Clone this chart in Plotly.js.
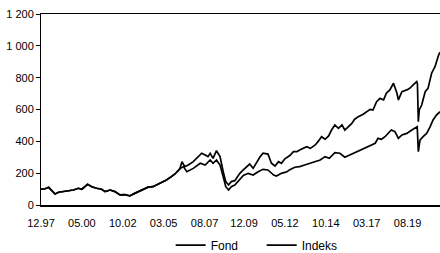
<!DOCTYPE html>
<html>
<head>
<meta charset="utf-8">
<script src="https://cdn.plot.ly/plotly-3.0.1.min.js"></script>
<style>html,body{margin:0;padding:0;background:#fff;}#chart{width:440px;height:253px;}</style>
</head>
<body>
<div id="chart"></div>
<script>
const fondDates = ['1997-12-01','1998-03-01','1998-05-15','1998-07-15','1998-10-01','1998-12-15','1999-04-01','1999-07-15','1999-11-01','2000-02-15','2000-05-01','2000-09-01','2000-12-01','2001-03-15','2001-07-01','2001-09-15','2002-01-01','2002-04-15','2002-08-01','2002-11-15','2003-03-01','2003-06-15','2003-10-01','2004-02-01','2004-04-01','2004-07-15','2004-11-01','2005-02-15','2005-05-01','2005-08-15','2005-11-01','2006-02-15',
'2006-04-01','2006-06-01','2006-08-15','2006-12-01','2007-03-15','2007-06-01','2007-08-15','2007-10-15','2007-12-01','2008-02-01','2008-04-15','2008-07-01','2008-09-15','2008-11-01','2009-01-01','2009-03-01','2009-05-15','2009-09-01','2009-11-15','2010-03-01','2010-04-01','2010-06-15','2010-09-01','2010-11-15','2011-01-15','2011-05-01','2011-07-15','2011-10-01','2011-12-15','2012-02-15','2012-05-01','2012-08-15','2012-11-01','2013-01-15','2013-03-15','2013-06-01','2013-08-15','2013-11-01','2014-02-15','2014-04-15','2014-07-01','2014-09-15','2014-12-01','2015-02-01','2015-04-15','2015-07-01','2015-09-15','2015-11-15','2016-02-01','2016-04-15','2016-06-15','2016-09-01','2016-12-15','2017-03-01','2017-05-15','2017-07-15','2017-10-01','2017-12-15','2018-03-01','2018-05-01','2018-07-15','2018-10-01','2018-12-15','2019-01-15','2019-04-01','2019-07-15','2019-09-15','2019-12-01','2020-02-15','2020-03-01','2020-03-20','2020-04-10','2020-06-01','2020-08-15','2020-10-15','2021-01-01','2021-03-15','2021-06-01','2021-07-01'];
const fondValues = [99,102,111,94,69,80,84,90,94,105,99,130,115,105,99,84,94,84,63,65,57,73,88,105,112,115,130,147,157,178,195,228,
272,241,251,272,304,325,314,304,325,293,341,304,199,147,126,147,153,199,220,251,257,230,272,304,325,320,262,245,272,262,290,311,335,335,346,356,366,356,377,398,429,413,434,471,503,482,503,471,492,513,539,555,570,586,601,597,649,670,660,702,723,765,702,660,712,723,733,754,775,760,523,597,628,712,733,828,869,942,960];

const indeksDates = ['1997-12-01','1998-03-01','1998-05-15','1998-07-15','1998-10-01','1998-12-15','1999-04-01','1999-07-15','1999-11-01','2000-02-15','2000-05-01','2000-09-01','2000-12-01','2001-03-15','2001-07-01','2001-09-15','2002-01-01','2002-04-15','2002-08-01','2002-11-15','2003-03-01','2003-06-15','2003-10-01','2004-02-01','2004-04-01','2004-07-15','2004-11-01','2005-02-15','2005-05-01','2005-08-15','2005-11-01','2006-02-15',
'2006-05-01','2006-07-15','2006-12-01','2007-05-01','2007-08-15','2007-12-01','2008-02-01','2008-04-15','2008-07-01','2008-09-15','2008-11-01','2009-01-01','2009-03-01','2009-05-15','2009-09-01','2009-11-15','2010-03-01','2010-06-15','2010-10-01','2011-01-15','2011-05-01','2011-09-01','2011-11-01','2012-02-15','2012-06-15','2012-08-15','2012-12-01','2013-03-15','2013-07-01','2013-11-01','2014-02-15','2014-06-01','2014-09-15','2014-12-15','2015-04-15','2015-08-01','2015-11-15','2016-03-01','2016-06-15','2016-10-01','2017-02-01','2017-05-15','2017-09-01','2017-11-01','2018-01-15','2018-04-01','2018-06-15','2018-08-15','2018-11-01','2019-01-15','2019-04-01','2019-07-15','2019-11-01','2020-01-01','2020-02-25','2020-03-20','2020-04-25','2020-07-01','2020-09-15','2020-12-01','2021-02-01','2021-04-15','2021-07-01'];
const indeksValues = [99,102,111,94,69,80,84,90,94,105,99,130,115,105,99,84,94,84,63,65,57,73,88,105,112,115,130,147,157,178,195,228,
241,209,230,262,251,283,262,283,251,170,115,94,115,126,165,185,199,188,209,224,220,188,182,199,209,222,237,241,251,262,272,283,304,293,329,325,300,314,325,340,356,371,388,419,413,429,454,471,461,419,440,450,471,482,492,335,408,429,450,492,534,565,586];

const xTickVals = ['1997-12-01','2000-05-01','2002-10-01','2005-03-01','2007-08-01','2009-12-01','2012-05-01','2014-10-01','2017-03-01','2019-08-01'];
const xTickLabels = ['12.97','05.00','10.02','03.05','08.07','12.09','05.12','10.14','03.17','08.19'];
const yTickVals = [0,200,400,600,800,1000,1200];
const yTickLabels = ['0','200','400','600','800','1 000','1 200'];

const FONT = '"Liberation Sans", Arial, sans-serif';

const traces = [
  {x: fondDates, y: fondValues, name: 'Fond', type: 'scatter', mode: 'lines', line: {color: '#000', width: 1.7}},
  {x: indeksDates, y: indeksValues, name: 'Indeks', type: 'scatter', mode: 'lines', line: {color: '#000', width: 1.7}}
];

const layout = {
  width: 440, height: 253,
  margin: {l: 41, r: 0, t: 14, b: 48, pad: 0, autoexpand: false},
  paper_bgcolor: '#fff', plot_bgcolor: '#fff',
  font: {family: FONT, size: 11, color: '#000'},
  showlegend: true,
  legend: {orientation: 'h', x: 0.325, xanchor: 'left', y: -0.21, yanchor: 'middle',
           entrywidth: 46, entrywidthmode: 'pixels',
           font: {family: FONT, size: 12, color: '#000'}, bgcolor: 'rgba(0,0,0,0)'},
  xaxis: {
    type: 'date', range: ['1997-12-01','2021-07-01'],
    tickvals: xTickVals, ticktext: xTickLabels,
    showgrid: false, zeroline: false, showline: true, mirror: true,
    linecolor: '#000', linewidth: 1.5, ticks: '', ticklabelstandoff: 7,
    tickfont: {family: FONT, size: 11, color: '#000'}
  },
  yaxis: {
    range: [0, 1200], tickvals: yTickVals, ticktext: yTickLabels,
    showgrid: false, zeroline: false, showline: true, linecolor: '#000', linewidth: 1,
    ticks: 'outside', ticklen: 4, tickcolor: '#000', tickwidth: 1,
    tickfont: {family: FONT, size: 11, color: '#000'}
  }
};

Plotly.newPlot('chart', traces, layout, {staticPlot: true, displayModeBar: false});
</script>
</body>
</html>
